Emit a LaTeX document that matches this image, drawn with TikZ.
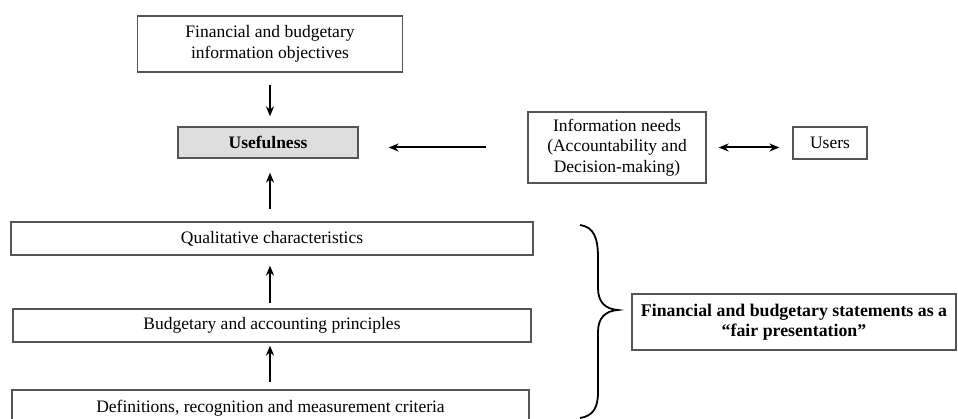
\documentclass[tikz,border=0pt]{standalone}
\usepackage{fontspec}
\setmainfont{Liberation Serif}
\usetikzlibrary{arrows.meta}
\definecolor{boxline}{HTML}{555555}
\definecolor{grayfill}{HTML}{DEDEDE}
\begin{document}
\begin{tikzpicture}[x=1pt,y=-1pt,
  every node/.style={font=\fontsize{17.5}{20.5}\selectfont, inner sep=0pt, align=center},
  plainbox/.style={draw=boxline, line width=1.3pt},
  conn/.style={line width=2pt, -{Stealth[length=10pt,width=8pt]}},
  dconn/.style={line width=2pt, {Stealth[length=10pt,width=8pt]}-{Stealth[length=10pt,width=8pt]}}]
\useasboundingbox (0,0) rectangle (958,419);
\clip (0,0) rectangle (958,419);
% boxes: centre (x,y), width, height
\node[plainbox, minimum width=265pt, minimum height=56pt] (obj) at (270,44) {Financial and budgetary\\information objectives};
\node[plainbox, fill=grayfill, minimum width=180pt, minimum height=31pt, font=\fontsize{17.5}{20.5}\selectfont\bfseries] (use) at (268,142.5) {Usefulness};
\node[plainbox, minimum width=178pt, minimum height=71pt] (info) at (617,147.5) {Information needs\\(Accountability and\\Decision-making)};
\node[plainbox, minimum width=74pt, minimum height=32pt] (users) at (830,143) {Users};
\node[plainbox, minimum width=522pt, minimum height=33pt] (qual) at (272,238.5) {Qualitative characteristics};
\node[plainbox, minimum width=518pt, minimum height=33pt] (budg) at (272,325.5) {Budgetary and accounting principles};
\node[plainbox, minimum width=517pt, minimum height=36pt] (defs) at (270.5,408) {Definitions, recognition and measurement criteria};
\node[plainbox, minimum width=324pt, minimum height=56pt, font=\fontsize{17.8}{20.5}\selectfont\bfseries] (fair) at (794,322) {Financial and budgetary statements as a\\“fair presentation”};
% connectors
\draw[conn, shorten <=12pt, shorten >=10pt] (obj.south) -- (obj.south |- use.north);
\draw[conn, shorten <=12pt, shorten >=14pt] (qual.north -| obj.south) -- (use.south -| obj.south);
\draw[conn, shorten <=5pt, shorten >=10pt] (budg.north -| obj.south) -- (qual.south -| obj.south);
\draw[conn, shorten <=7pt, shorten >=3pt] (defs.north -| obj.south) -- (budg.south -| obj.south);
\draw[conn, shorten <=41pt, shorten >=30pt] (info.west) -- (info.west -| use.east);
\draw[dconn, shorten <=12pt, shorten >=13pt] (info.east) -- (info.east -| users.west);
% brace
\draw[line width=1.8pt] (580,225) .. controls (594,227) and (598,238) .. (598,258) -- (598,288) .. controls (598,302) and (605,309) .. (618,310) .. controls (605,311) and (598,318) .. (598,332) -- (598,392) .. controls (598,408) and (593,416) .. (580,418);
\end{tikzpicture}
\end{document}
